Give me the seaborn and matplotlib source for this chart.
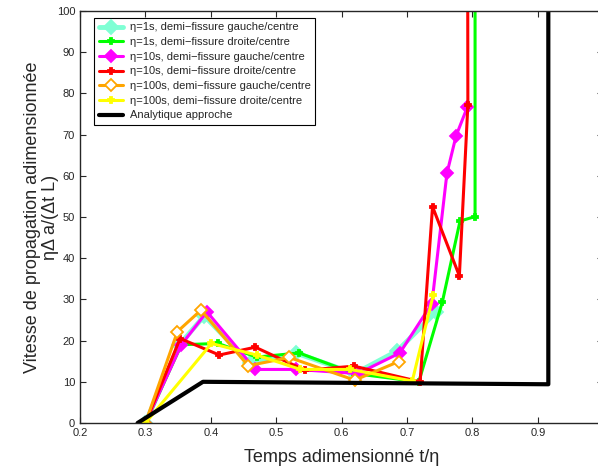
import matplotlib
matplotlib.use("Agg")
import matplotlib.pyplot as plt
import pandas as pd
import seaborn as sns

# eta = 1 s
x_1s_g = [0.300, 0.352, 0.390, 0.460, 0.530, 0.620, 0.685, 0.745]
y_1s_g = [0.0, 19.0, 26.0, 14.5, 17.0, 12.0, 17.5, 27.0]
x_1s_d = [0.300, 0.355, 0.411, 0.470, 0.535, 0.620, 0.718, 0.754, 0.781, 0.804, 0.804]
y_1s_d = [0.0, 19.0, 19.3, 16.0, 17.0, 12.0, 10.0, 29.4, 49.0, 50.1, 200.0]

# eta = 10 s
x_10s_g = [0.300, 0.355, 0.394, 0.468, 0.530, 0.625, 0.689, 0.738, 0.761, 0.775, 0.792]
y_10s_g = [0.0, 19.0, 27.0, 13.0, 13.0, 12.0, 17.0, 29.0, 60.6, 69.7, 76.6]
x_10s_d = [0.300, 0.353, 0.413, 0.468, 0.544, 0.619, 0.720, 0.739, 0.780, 0.793, 0.792]
y_10s_d = [0.0, 20.5, 16.5, 18.4, 12.8, 13.8, 10.0, 52.5, 35.7, 77.2, 200.0]

# eta = 100 s
x_100s_g = [0.300, 0.349, 0.385, 0.457, 0.520, 0.620, 0.687]
y_100s_g = [0.0, 22.2, 27.4, 13.9, 15.9, 10.4, 14.9]
x_100s_d = [0.300, 0.401, 0.470, 0.537, 0.613, 0.708, 0.740]
y_100s_d = [0.0, 19.3, 16.5, 13.0, 13.0, 10.2, 31.0]

# approche analytique
x_ana = [0.288, 0.388, 0.916, 0.916]
y_ana = [0.0, 10.0, 9.4, 200.0]

x_ticks = [0.2, 0.3, 0.4, 0.5, 0.6, 0.7, 0.8, 0.9]

sns.set_style("ticks")
plt.rcParams["font.family"] = ["Liberation Sans", "DejaVu Sans"]

fig = plt.figure(figsize=(5.98, 4.72), dpi=100)
# the right edge of the axes falls just outside the picture, as in the original
ax = fig.add_axes([0.1338, 0.1038, 0.875, 0.873])

series = [
    (x_1s_g, y_1s_g, "η=1s, demi−fissure gauche/centre", "#7fffd4", "D", 7, 3.5, "#7fffd4"),
    (x_1s_d, y_1s_d, "η=1s, demi−fissure droite/centre", "#00ff00", "P", 5, 2.2, "#00ff00"),
    (x_10s_g, y_10s_g, "η=10s, demi−fissure gauche/centre", "#ff00ff", "D", 6.5, 2.2, "#ff00ff"),
    (x_10s_d, y_10s_d, "η=10s, demi−fissure droite/centre", "#ff0000", "P", 5, 2.2, "#ff0000"),
    (x_100s_g, y_100s_g, "η=100s, demi−fissure gauche/centre", "#ffa500", "D", 6.5, 2.2, "white"),
    (x_100s_d, y_100s_d, "η=100s, demi−fissure droite/centre", "#ffff00", "P", 5, 2.2, "#ffff00"),
]

for xs, ys, lab, col, mk, ms, lw, fc in series:
    df = pd.DataFrame({"x": xs, "y": ys})
    sns.lineplot(data=df, x="x", y="y", sort=False, estimator=None, ax=ax,
                 color=col, lw=lw, marker=mk, markersize=ms,
                 markerfacecolor=fc, markeredgecolor=col, markeredgewidth=1.3,
                 label=lab)

df_ana = pd.DataFrame({"x": x_ana, "y": y_ana})
sns.lineplot(data=df_ana, x="x", y="y", sort=False, estimator=None, ax=ax,
             color="black", lw=3, label="Analytique approche")

ax.set_xlim(0.2, 1.0)
ax.set_ylim(0, 100)
ax.set_xticks(x_ticks)
ax.set_yticks(range(0, 101, 10))
ax.tick_params(direction="in", top=True, right=True, labelsize=8, length=4, width=0.8)
for s in ax.spines.values():
    s.set_linewidth(1.0)

ax.set_xlabel("Temps adimensionné t/η", fontsize=13, labelpad=8)
ax.set_ylabel("Vitesse de propagation adimensionnée\nηΔ a/(Δt L)", fontsize=13,
              linespacing=1.1, labelpad=-2)

leg = ax.legend(loc="upper left", bbox_to_anchor=(0.027, 0.983), fontsize=8,
                frameon=True, fancybox=False, edgecolor="black", framealpha=1,
                handlelength=2.2, labelspacing=0.42, borderpad=0.4, handletextpad=0.6,
                borderaxespad=0)
leg.get_frame().set_linewidth(0.8)

fig.savefig("out.png", dpi=100)
